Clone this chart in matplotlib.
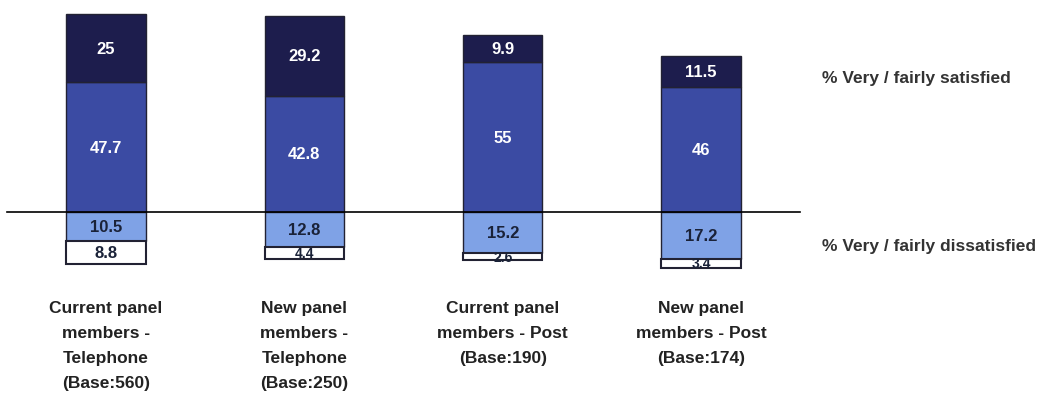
import matplotlib.pyplot as plt
import numpy as np

groups = ["Current panel\nmembers -\nTelephone\n(Base:560)",
          "New panel\nmembers -\nTelephone\n(Base:250)",
          "Current panel\nmembers - Post\n(Base:190)",
          "New panel\nmembers - Post\n(Base:174)"]
fairly_sat = [47.7, 42.8, 55, 46]
very_sat = [25, 29.2, 9.9, 11.5]
fairly_dis = [10.5, 12.8, 15.2, 17.2]
very_dis = [8.8, 4.4, 2.6, 3.4]

c_very_sat = "#1d1d4d"
c_fairly_sat = "#3b4ba3"
c_fairly_dis = "#7fa2e6"
c_very_dis = "#ffffff"
edge = "#222233"

W, H = 1064, 414
fig = plt.figure(figsize=(W / 100, H / 100), dpi=100)
ax = fig.add_axes([0, 0, 1, 1])
ax.set_xlim(-0.535, 4.83)
ax.set_ylim(-73.9, 78.3)
ax.axis("off")

x = np.arange(len(groups))
w = 0.4
fs = np.array(fairly_sat)
vs = np.array(very_sat)
fd = np.array(fairly_dis)
vd = np.array(very_dis)

ax.bar(x, fs, w, color=c_fairly_sat, edgecolor=edge, lw=1)
ax.bar(x, vs, w, bottom=fs, color=c_very_sat, edgecolor=edge, lw=1)
ax.bar(x, -fd, w, color=c_fairly_dis, edgecolor=edge, lw=1)
ax.bar(x, -vd, w, bottom=-fd, color=c_very_dis, edgecolor=edge, lw=1.5)

ax.plot([-0.5, 3.5], [0, 0], color="black", lw=1.2, zorder=3)

font = dict(family=["Liberation Sans", "DejaVu Sans"], fontweight="bold")
for i in range(len(groups)):
    ax.text(x[i], fs[i] + vs[i] / 2, f"{very_sat[i]:g}", ha="center",
            va="center", color="white", fontsize=12, **font)
    ax.text(x[i], fs[i] / 2, f"{fairly_sat[i]:g}", ha="center", va="center",
            color="white", fontsize=12, **font)
    ax.text(x[i], -fd[i] / 2, f"{fairly_dis[i]:g}", ha="center", va="center",
            color="#1a2238", fontsize=12, **font)
    ax.text(x[i], -fd[i] - vd[i] / 2, f"{very_dis[i]:g}", ha="center",
            va="center", color="#1a2238", fontsize=12 if vd[i] > 5 else 10,
            **font)
    # category label, one line at a time (25 px apart)
    for j, line in enumerate(groups[i].split("\n")):
        ax.text(x[i], -35 - j * 9.2, line, ha="center", va="center",
                fontsize=12.5, color="#222222", **font)

ax.text(3.61, 49.6, "% Very / fairly satisfied", ha="left", va="center",
        fontsize=12.5, color="#333333", **font)
ax.text(3.61, -12.5, "% Very / fairly dissatisfied", ha="left", va="center",
        fontsize=12.5, color="#333333", **font)

fig.savefig("out.png", dpi=100, facecolor="white")
